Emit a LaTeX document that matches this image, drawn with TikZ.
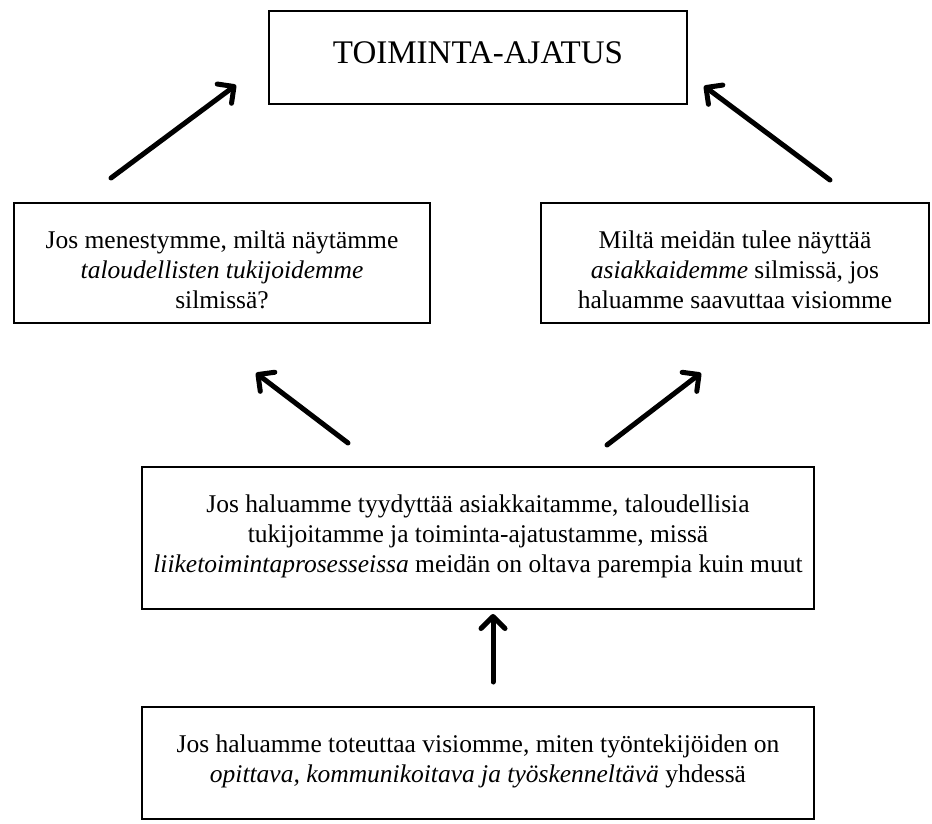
\documentclass[tikz,border=0pt]{standalone}
\usepackage{fontspec}
\setmainfont{Liberation Serif}
\usetikzlibrary{arrows.meta}
\tikzset{
  boxnode/.style={draw=black, line width=2pt, inner sep=0pt, fill=white},
  bigarrow/.style={line width=5pt, line cap=round, -{Straight Barb[length=12pt,width=24pt,line cap=round,line join=round]}},
}
\newcommand{\boxtext}[4]{\parbox[c][#2pt][t]{#1pt}{\centering\rule{0pt}{#3pt}#4}}
\begin{document}
\begin{tikzpicture}[x=1pt,y=-1pt]
\useasboundingbox (0,0) rectangle (932,823);
\fontsize{25.5}{30}\selectfont
\node[boxnode] (top) at (478,57.5) {\boxtext{418}{93}{52}{\fontsize{33}{38}\selectfont TOIMINTA-AJATUS}};
\node[boxnode] (left) at (222,263) {\boxtext{416}{120}{45}{Jos menestymme, miltä näytämme\\ \textit{taloudellisten tukijoidemme}\\ silmissä?}};
\node[boxnode] (right) at (735,263) {\boxtext{388}{120}{45}{Miltä meidän tulee näyttää\\ \textit{asiakkaidemme} silmissä, jos\\ haluamme saavuttaa visiomme}};
\node[boxnode] (mid) at (478,538) {\boxtext{672}{142}{45}{Jos haluamme tyydyttää asiakkaitamme, taloudellisia\\ tukijoitamme ja toiminta-ajatustamme, missä\\ \textit{liiketoimintaprosesseissa} meidän on oltava parempia kuin muut}};
\node[boxnode] (bot) at (478,763) {\boxtext{672}{112}{45}{Jos haluamme toteuttaa visiomme, miten työntekijöiden on\\ \textit{opittava, kommunikoitava ja työskenneltävä} yhdessä}};
\coordinate (a1s) at (111,178);
\coordinate (a1e) at (236,85);
\coordinate (a2s) at (830,180);
\coordinate (a2e) at (704,86);
\coordinate (a3s) at (348,443);
\coordinate (a3e) at (256,373);
\coordinate (a4s) at (607,445);
\coordinate (a4e) at (701,373);
\coordinate (a5s) at (493,682);
\coordinate (a5e) at (493,614);
\draw[bigarrow] (a1s) -- (a1e);
\draw[bigarrow] (a2s) -- (a2e);
\draw[bigarrow] (a3s) -- (a3e);
\draw[bigarrow] (a4s) -- (a4e);
\draw[bigarrow] (a5s) -- (a5e);
\end{tikzpicture}
\end{document}
